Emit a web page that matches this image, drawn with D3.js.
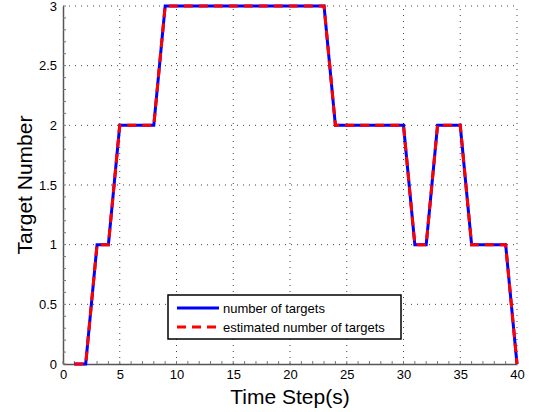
<!DOCTYPE html>
<html>
<head>
<meta charset="utf-8">
<script src="https://cdn.jsdelivr.net/npm/d3@7"></script>
<style>
  body { margin: 0; background: #fff; }
  svg { font-family: "Liberation Sans", Arial, sans-serif; }
</style>
</head>
<body>
<div id="chart"></div>
<script>
// time steps and target counts
const timeSteps = d3.range(1, 41);
const trueTargets = [0, 0, 1, 1, 2, 2, 2, 2, 3, 3,
                     3, 3, 3, 3, 3, 3, 3, 3, 3, 3,
                     3, 3, 3, 2, 2, 2, 2, 2, 2, 2,
                     1, 1, 2, 2, 2, 1, 1, 1, 1, 0];
const estTargets = [0, 0, 1, 1, 2, 2, 2, 2, 3, 3,
                    3, 3, 3, 3, 3, 3, 3, 3, 3, 3,
                    3, 3, 3, 2, 2, 2, 2, 2, 2, 2,
                    1, 1, 2, 2, 2, 1, 1, 1, 1, 0];
const xTicks = [0, 5, 10, 15, 20, 25, 30, 35, 40];
const yTicks = [0, 0.5, 1, 1.5, 2, 2.5, 3];
const legendLabels = ["number of targets", "estimated number of targets"];

const W = 533, H = 412;
const margin = {left: 63, right: 16, top: 6, bottom: 48};

const svg = d3.select("#chart").append("svg")
  .attr("width", W).attr("height", H);

const x = d3.scaleLinear().domain([0, 40]).range([margin.left, W - margin.right]);
const y = d3.scaleLinear().domain([0, 3]).range([H - margin.bottom, margin.top]);

// grid
svg.append("g").selectAll("line").data(xTicks.slice(1)).join("line")
  .attr("x1", d => x(d)).attr("x2", d => x(d))
  .attr("y1", y(0)).attr("y2", y(3))
  .attr("stroke", "#444").attr("stroke-width", 1)
  .attr("stroke-dasharray", "1,5");
svg.append("g").selectAll("line").data(yTicks.slice(1)).join("line")
  .attr("x1", x(0)).attr("x2", x(40))
  .attr("y1", d => y(d)).attr("y2", d => y(d))
  .attr("stroke", "#444").attr("stroke-width", 1)
  .attr("stroke-dasharray", "1,5");

// axes
const xAxis = svg.append("g")
  .attr("transform", `translate(0,${y(0)})`)
  .call(d3.axisBottom(x).tickValues(xTicks).tickSize(0).tickPadding(6));
const yAxis = svg.append("g")
  .attr("transform", `translate(${x(0)},0)`)
  .call(d3.axisLeft(y).tickValues(yTicks).tickSize(0).tickPadding(6).tickFormat(d3.format("")));
[xAxis, yAxis].forEach(g => {
  g.select(".domain").attr("stroke", "#555").attr("stroke-width", 1.5);
  g.selectAll("text").attr("font-size", 13).attr("fill", "#000")
    .attr("font-family", "Liberation Sans, Arial, sans-serif");
});

// minor ticks
svg.append("g").selectAll("line").data(d3.range(0, 3.001, 0.1)).join("line")
  .attr("x1", x(0)).attr("x2", x(0) + 3)
  .attr("y1", d => y(d)).attr("y2", d => y(d))
  .attr("stroke", "#777").attr("stroke-width", 1);
svg.append("g").selectAll("line").data(d3.range(0, 41, 1)).join("line")
  .attr("x1", d => x(d)).attr("x2", d => x(d))
  .attr("y1", y(0)).attr("y2", y(0) - 3)
  .attr("stroke", "#777").attr("stroke-width", 1);

// lines
const line = d3.line().x((d, i) => x(timeSteps[i])).y(d => y(d));
svg.append("path").datum(trueTargets)
  .attr("d", line).attr("fill", "none")
  .attr("stroke", "#0000ff").attr("stroke-width", 3);
svg.append("path").datum(estTargets)
  .attr("d", line).attr("fill", "none")
  .attr("stroke", "#ff0000").attr("stroke-width", 3)
  .attr("stroke-dasharray", "9,6");

// axis labels
svg.append("text")
  .attr("x", (x(0) + x(40)) / 2).attr("y", 404)
  .attr("text-anchor", "middle").attr("font-size", 21)
  .text("Time Step(s)");
svg.append("text")
  .attr("transform", `translate(32,${(y(0) + y(3)) / 2}) rotate(-90)`)
  .attr("text-anchor", "middle").attr("font-size", 21)
  .text("Target Number");

// legend
const lg = svg.append("g").attr("transform", "translate(168,295)");
lg.append("rect").attr("width", 233).attr("height", 44)
  .attr("fill", "#fff").attr("stroke", "#000").attr("stroke-width", 1.5);
const styles = [{c: "#0000ff", dash: null}, {c: "#ff0000", dash: "9,6"}];
legendLabels.forEach((t, i) => {
  const yy = 13 + i * 19;
  lg.append("line").attr("x1", 9).attr("x2", 51).attr("y1", yy).attr("y2", yy)
    .attr("stroke", styles[i].c).attr("stroke-width", 3)
    .attr("stroke-dasharray", styles[i].dash);
  lg.append("text").attr("x", 55).attr("y", yy + 4.5)
    .attr("font-size", 13).text(t);
});
</script>
</body>
</html>
